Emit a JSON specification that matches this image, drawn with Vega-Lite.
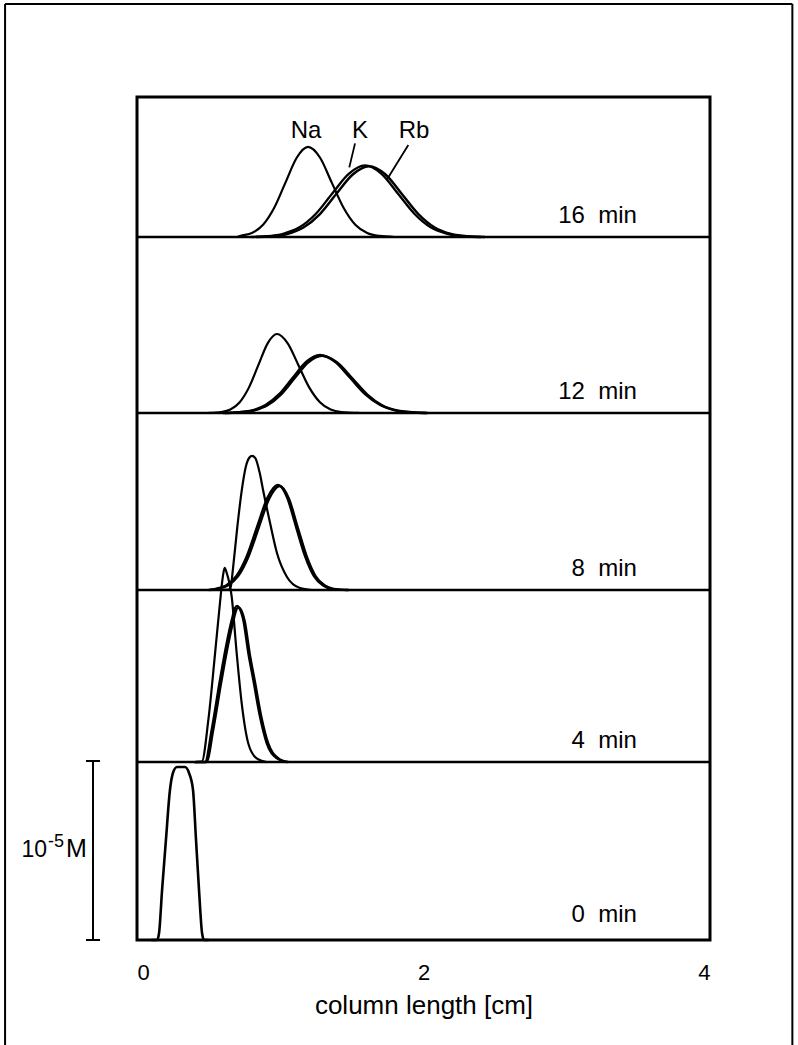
{
"$schema":"https://vega.github.io/schema/vega-lite/v6.json",
"width":573,"height":843,
"autosize":{"type":"none"},
"padding":{"left":137,"top":97,"right":88,"bottom":105},
"background":"white",
"config":{
 "view":{"stroke":"black","strokeWidth":3},
 "font":"Liberation Sans",
 "axis":{"labelFontSize":22},
 "axisX":{"domain":false,"ticks":false,"grid":false,"labelFontSize":22,"labelPadding":22,"labelColor":"black","titleFontSize":26,"titleFontWeight":"normal","titleColor":"black","titlePadding":9,"labelFont":"Liberation Sans","titleFont":"Liberation Sans"},
 "style":{"guide-label":{"fontSize":22}},
 "text":{"font":"Liberation Sans","color":"black"}
},
"datasets":{
 "curves":[
  {"t":16,"ion":"Na","x":0.70,"c":0},{"t":16,"ion":"Na","x":0.723,"c":0.006},{"t":16,"ion":"Na","x":0.802,"c":0.022},{"t":16,"ion":"Na","x":0.880,"c":0.068},{"t":16,"ion":"Na","x":0.958,"c":0.163},{"t":16,"ion":"Na","x":1.037,"c":0.305},{"t":16,"ion":"Na","x":1.116,"c":0.444},{"t":16,"ion":"Na","x":1.194,"c":0.503},{"t":16,"ion":"Na","x":1.277,"c":0.444},{"t":16,"ion":"Na","x":1.359,"c":0.305},{"t":16,"ion":"Na","x":1.442,"c":0.163},{"t":16,"ion":"Na","x":1.524,"c":0.068},{"t":16,"ion":"Na","x":1.607,"c":0.022},{"t":16,"ion":"Na","x":1.689,"c":0.006},{"t":16,"ion":"Na","x":1.80,"c":0},
  {"t":16,"ion":"K","x":0.80,"c":0},{"t":16,"ion":"K","x":0.905,"c":0.004},{"t":16,"ion":"K","x":1.020,"c":0.018},{"t":16,"ion":"K","x":1.134,"c":0.054},{"t":16,"ion":"K","x":1.249,"c":0.130},{"t":16,"ion":"K","x":1.363,"c":0.243},{"t":16,"ion":"K","x":1.478,"c":0.353},{"t":16,"ion":"K","x":1.592,"c":0.400},{"t":16,"ion":"K","x":1.707,"c":0.353},{"t":16,"ion":"K","x":1.821,"c":0.243},{"t":16,"ion":"K","x":1.936,"c":0.130},{"t":16,"ion":"K","x":2.050,"c":0.054},{"t":16,"ion":"K","x":2.165,"c":0.018},{"t":16,"ion":"K","x":2.279,"c":0.004},{"t":16,"ion":"K","x":2.40,"c":0},
  {"t":16,"ion":"Rb","x":0.83,"c":0},{"t":16,"ion":"Rb","x":0.933,"c":0.004},{"t":16,"ion":"Rb","x":1.048,"c":0.017},{"t":16,"ion":"Rb","x":1.162,"c":0.053},{"t":16,"ion":"Rb","x":1.277,"c":0.128},{"t":16,"ion":"Rb","x":1.391,"c":0.240},{"t":16,"ion":"Rb","x":1.506,"c":0.349},{"t":16,"ion":"Rb","x":1.620,"c":0.395},{"t":16,"ion":"Rb","x":1.735,"c":0.349},{"t":16,"ion":"Rb","x":1.849,"c":0.240},{"t":16,"ion":"Rb","x":1.964,"c":0.128},{"t":16,"ion":"Rb","x":2.078,"c":0.053},{"t":16,"ion":"Rb","x":2.193,"c":0.017},{"t":16,"ion":"Rb","x":2.307,"c":0.004},{"t":16,"ion":"Rb","x":2.43,"c":0},
  {"t":12,"ion":"Na","x":0.50,"c":0},{"t":12,"ion":"Na","x":0.587,"c":0.005},{"t":12,"ion":"Na","x":0.652,"c":0.019},{"t":12,"ion":"Na","x":0.717,"c":0.060},{"t":12,"ion":"Na","x":0.782,"c":0.143},{"t":12,"ion":"Na","x":0.847,"c":0.267},{"t":12,"ion":"Na","x":0.912,"c":0.389},{"t":12,"ion":"Na","x":0.977,"c":0.441},{"t":12,"ion":"Na","x":1.052,"c":0.389},{"t":12,"ion":"Na","x":1.127,"c":0.267},{"t":12,"ion":"Na","x":1.202,"c":0.143},{"t":12,"ion":"Na","x":1.277,"c":0.060},{"t":12,"ion":"Na","x":1.352,"c":0.019},{"t":12,"ion":"Na","x":1.427,"c":0.005},{"t":12,"ion":"Na","x":1.55,"c":0},
  {"t":12,"ion":"K","x":0.60,"c":0},{"t":12,"ion":"K","x":0.707,"c":0.004},{"t":12,"ion":"K","x":0.802,"c":0.014},{"t":12,"ion":"K","x":0.897,"c":0.044},{"t":12,"ion":"K","x":0.992,"c":0.105},{"t":12,"ion":"K","x":1.087,"c":0.197},{"t":12,"ion":"K","x":1.182,"c":0.286},{"t":12,"ion":"K","x":1.277,"c":0.324},{"t":12,"ion":"K","x":1.382,"c":0.286},{"t":12,"ion":"K","x":1.487,"c":0.197},{"t":12,"ion":"K","x":1.592,"c":0.105},{"t":12,"ion":"K","x":1.697,"c":0.044},{"t":12,"ion":"K","x":1.802,"c":0.014},{"t":12,"ion":"K","x":1.907,"c":0.004},{"t":12,"ion":"K","x":2.02,"c":0},
  {"t":12,"ion":"Rb","x":0.614,"c":0},{"t":12,"ion":"Rb","x":0.721,"c":0.004},{"t":12,"ion":"Rb","x":0.816,"c":0.014},{"t":12,"ion":"Rb","x":0.911,"c":0.043},{"t":12,"ion":"Rb","x":1.006,"c":0.104},{"t":12,"ion":"Rb","x":1.101,"c":0.195},{"t":12,"ion":"Rb","x":1.196,"c":0.283},{"t":12,"ion":"Rb","x":1.291,"c":0.320},{"t":12,"ion":"Rb","x":1.396,"c":0.283},{"t":12,"ion":"Rb","x":1.501,"c":0.195},{"t":12,"ion":"Rb","x":1.606,"c":0.104},{"t":12,"ion":"Rb","x":1.711,"c":0.043},{"t":12,"ion":"Rb","x":1.816,"c":0.014},{"t":12,"ion":"Rb","x":1.921,"c":0.004},{"t":12,"ion":"Rb","x":2.03,"c":0},
  {"t":8,"ion":"Na","x":0.58,"c":0},{"t":8,"ion":"Na","x":0.640,"c":0.003},{"t":8,"ion":"Na","x":0.655,"c":0.02},{"t":8,"ion":"Na","x":0.670,"c":0.12},{"t":8,"ion":"Na","x":0.700,"c":0.35},{"t":8,"ion":"Na","x":0.730,"c":0.55},{"t":8,"ion":"Na","x":0.760,"c":0.69},{"t":8,"ion":"Na","x":0.785,"c":0.74},{"t":8,"ion":"Na","x":0.803,"c":0.749},{"t":8,"ion":"Na","x":0.825,"c":0.738},{"t":8,"ion":"Na","x":0.855,"c":0.66},{"t":8,"ion":"Na","x":0.880,"c":0.559},{"t":8,"ion":"Na","x":0.929,"c":0.374},{"t":8,"ion":"Na","x":0.977,"c":0.207},{"t":8,"ion":"Na","x":1.047,"c":0.073},{"t":8,"ion":"Na","x":1.138,"c":0.011},{"t":8,"ion":"Na","x":1.22,"c":0},
  {"t":8,"ion":"K","x":0.50,"c":0},{"t":8,"ion":"K","x":0.549,"c":0.0065},{"t":8,"ion":"K","x":0.622,"c":0.026},{"t":8,"ion":"K","x":0.694,"c":0.079},{"t":8,"ion":"K","x":0.767,"c":0.191},{"t":8,"ion":"K","x":0.839,"c":0.356},{"t":8,"ion":"K","x":0.912,"c":0.518},{"t":8,"ion":"K","x":0.984,"c":0.587},{"t":8,"ion":"K","x":1.047,"c":0.518},{"t":8,"ion":"K","x":1.109,"c":0.356},{"t":8,"ion":"K","x":1.172,"c":0.191},{"t":8,"ion":"K","x":1.234,"c":0.079},{"t":8,"ion":"K","x":1.297,"c":0.026},{"t":8,"ion":"K","x":1.359,"c":0.0065},{"t":8,"ion":"K","x":1.47,"c":0},
  {"t":8,"ion":"Rb","x":0.512,"c":0},{"t":8,"ion":"Rb","x":0.561,"c":0.0065},{"t":8,"ion":"Rb","x":0.634,"c":0.026},{"t":8,"ion":"Rb","x":0.706,"c":0.078},{"t":8,"ion":"Rb","x":0.779,"c":0.189},{"t":8,"ion":"Rb","x":0.851,"c":0.352},{"t":8,"ion":"Rb","x":0.924,"c":0.513},{"t":8,"ion":"Rb","x":0.996,"c":0.581},{"t":8,"ion":"Rb","x":1.059,"c":0.513},{"t":8,"ion":"Rb","x":1.121,"c":0.352},{"t":8,"ion":"Rb","x":1.184,"c":0.189},{"t":8,"ion":"Rb","x":1.246,"c":0.078},{"t":8,"ion":"Rb","x":1.309,"c":0.026},{"t":8,"ion":"Rb","x":1.371,"c":0.0065},{"t":8,"ion":"Rb","x":1.48,"c":0},
  {"t":4,"ion":"Na","x":0.40,"c":0},{"t":4,"ion":"Na","x":0.452,"c":0.002},{"t":4,"ion":"Na","x":0.498,"c":0.235},{"t":4,"ion":"Na","x":0.545,"c":0.607},{"t":4,"ion":"Na","x":0.579,"c":0.887},{"t":4,"ion":"Na","x":0.600,"c":1.04},{"t":4,"ion":"Na","x":0.612,"c":1.085},{"t":4,"ion":"Na","x":0.625,"c":1.06},{"t":4,"ion":"Na","x":0.661,"c":0.924},{"t":4,"ion":"Na","x":0.696,"c":0.607},{"t":4,"ion":"Na","x":0.731,"c":0.328},{"t":4,"ion":"Na","x":0.777,"c":0.104},{"t":4,"ion":"Na","x":0.836,"c":0.020},{"t":4,"ion":"Na","x":0.905,"c":0},
  {"t":4,"ion":"K","x":0.40,"c":0},{"t":4,"ion":"K","x":0.475,"c":0},{"t":4,"ion":"K","x":0.521,"c":0.179},{"t":4,"ion":"K","x":0.579,"c":0.458},{"t":4,"ion":"K","x":0.626,"c":0.665},{"t":4,"ion":"K","x":0.661,"c":0.793},{"t":4,"ion":"K","x":0.684,"c":0.860},{"t":4,"ion":"K","x":0.698,"c":0.872},{"t":4,"ion":"K","x":0.715,"c":0.86},{"t":4,"ion":"K","x":0.742,"c":0.793},{"t":4,"ion":"K","x":0.777,"c":0.609},{"t":4,"ion":"K","x":0.812,"c":0.458},{"t":4,"ion":"K","x":0.859,"c":0.251},{"t":4,"ion":"K","x":0.905,"c":0.106},{"t":4,"ion":"K","x":0.975,"c":0.022},{"t":4,"ion":"K","x":1.045,"c":0},
  {"t":4,"ion":"Rb","x":0.41,"c":0},{"t":4,"ion":"Rb","x":0.485,"c":0},{"t":4,"ion":"Rb","x":0.531,"c":0.176},{"t":4,"ion":"Rb","x":0.589,"c":0.452},{"t":4,"ion":"Rb","x":0.636,"c":0.656},{"t":4,"ion":"Rb","x":0.671,"c":0.785},{"t":4,"ion":"Rb","x":0.694,"c":0.852},{"t":4,"ion":"Rb","x":0.708,"c":0.864},{"t":4,"ion":"Rb","x":0.725,"c":0.852},{"t":4,"ion":"Rb","x":0.752,"c":0.785},{"t":4,"ion":"Rb","x":0.787,"c":0.603},{"t":4,"ion":"Rb","x":0.822,"c":0.453},{"t":4,"ion":"Rb","x":0.869,"c":0.248},{"t":4,"ion":"Rb","x":0.915,"c":0.105},{"t":4,"ion":"Rb","x":0.985,"c":0.022},{"t":4,"ion":"Rb","x":1.055,"c":0},
  {"t":0,"ion":"all","x":0.10,"c":0},{"t":0,"ion":"all","x":0.140,"c":0},{"t":0,"ion":"all","x":0.154,"c":0.039},{"t":0,"ion":"all","x":0.175,"c":0.279},{"t":0,"ion":"all","x":0.202,"c":0.559},{"t":0,"ion":"all","x":0.230,"c":0.838},{"t":0,"ion":"all","x":0.251,"c":0.933},{"t":0,"ion":"all","x":0.279,"c":0.966},{"t":0,"ion":"all","x":0.335,"c":0.966},{"t":0,"ion":"all","x":0.363,"c":0.933},{"t":0,"ion":"all","x":0.391,"c":0.838},{"t":0,"ion":"all","x":0.412,"c":0.559},{"t":0,"ion":"all","x":0.433,"c":0.279},{"t":0,"ion":"all","x":0.454,"c":0.039},{"t":0,"ion":"all","x":0.468,"c":0},{"t":0,"ion":"all","x":0.50,"c":0}
 ],
 "ions":[{"ion":"Na","x":1.18,"y":0.553},{"ion":"K","x":1.557,"y":0.553},{"ion":"Rb","x":1.934,"y":0.553}],
 "leaders":[{"x":1.522,"y":0.523,"x2":1.482,"y2":0.389},{"x":1.894,"y":0.514,"x2":1.743,"y2":0.318}]
},
"resolve":{"scale":{"y":"independent"}},
"layer":[
 {"layer":[
  {"data":{"name":"curves"},"transform":[{"filter":"datum.t === 0"}],"mark":{"type":"line","interpolate":"monotone","color":"black"},
   "encoding":{"x":{"field":"x","type":"quantitative","scale":{"domain":[0,4]},"axis":{"values":[0,2,4],"title":"column length [cm]","titleFontSize":26}},"y":{"field":"c","type":"quantitative","scale":{"domain":[0,4.709],"nice":false,"zero":false},"axis":null},"detail":{"field":"ion"},"strokeWidth":{"field":"ion","type":"nominal","scale":{"domain":["Na","K","Rb","all"],"range":[2.2,2.6,2.6,3]},"legend":null}}},
  {"data":{"values":[{"label":"0\u00a0\u00a0min"}]},"mark":{"type":"text","align":"right","baseline":"alphabetic","fontSize":24},"encoding":{"text":{"field":"label"},"x":{"datum":3.49,"axis":{"values":[0,2,4],"title":"column length [cm]","titleFontSize":26}},"y":{"datum":0.1,"scale":{"domain":[0,4.709],"nice":false,"zero":false},"axis":null}}},
  {"data":{"values":[{"k":1}]},"mark":{"type":"rule","color":"black","strokeWidth":2},"encoding":{"x":{"datum":-0.307,"axis":{"values":[0,2,4],"title":"column length [cm]","titleFontSize":26}},"y":{"datum":0,"scale":{"domain":[0,4.709],"nice":false,"zero":false},"axis":null},"y2":{"datum":1}}},
  {"data":{"values":[{"k":1}]},"mark":{"type":"rule","color":"black","strokeWidth":2},"encoding":{"x":{"datum":-0.356,"axis":{"values":[0,2,4],"title":"column length [cm]","titleFontSize":26}},"x2":{"datum":-0.258},"y":{"datum":0,"scale":{"domain":[0,4.709],"nice":false,"zero":false},"axis":null}}},
  {"data":{"values":[{"k":1}]},"mark":{"type":"rule","color":"black","strokeWidth":2},"encoding":{"x":{"datum":-0.356,"axis":{"values":[0,2,4],"title":"column length [cm]","titleFontSize":26}},"x2":{"datum":-0.258},"y":{"datum":1,"scale":{"domain":[0,4.709],"nice":false,"zero":false},"axis":null}}},
  {"data":{"values":[{"s":"10"}]},"mark":{"type":"text","align":"right","baseline":"alphabetic","fontSize":23},"encoding":{"text":{"field":"s"},"x":{"datum":-0.628,"axis":{"values":[0,2,4],"title":"column length [cm]","titleFontSize":26}},"y":{"datum":0.464,"scale":{"domain":[0,4.709],"nice":false,"zero":false},"axis":null}}},
  {"data":{"values":[{"s":"-5"}]},"mark":{"type":"text","align":"left","baseline":"alphabetic","fontSize":18},"encoding":{"text":{"field":"s"},"x":{"datum":-0.621,"axis":{"values":[0,2,4],"title":"column length [cm]","titleFontSize":26}},"y":{"datum":0.52,"scale":{"domain":[0,4.709],"nice":false,"zero":false},"axis":null}}},
  {"data":{"values":[{"s":"M"}]},"mark":{"type":"text","align":"left","baseline":"alphabetic","fontSize":25},"encoding":{"text":{"field":"s"},"x":{"datum":-0.496,"axis":{"values":[0,2,4],"title":"column length [cm]","titleFontSize":26}},"y":{"datum":0.464,"scale":{"domain":[0,4.709],"nice":false,"zero":false},"axis":null}}},
  {"data":{"values":[{"k":1}]},"mark":{"type":"rule","color":"black","strokeWidth":2},"encoding":{"x":{"datum":-0.921,"axis":{"values":[0,2,4],"title":"column length [cm]","titleFontSize":26}},"y":{"datum":-0.65,"scale":{"domain":[0,4.709],"nice":false,"zero":false},"axis":null},"y2":{"datum":5.229}}},
  {"data":{"values":[{"k":1}]},"mark":{"type":"rule","color":"black","strokeWidth":2},"encoding":{"x":{"datum":-0.921,"axis":{"values":[0,2,4],"title":"column length [cm]","titleFontSize":26}},"x2":{"datum":4.575},"y":{"datum":5.229,"scale":{"domain":[0,4.709],"nice":false,"zero":false},"axis":null}}},
  {"data":{"values":[{"k":1}]},"mark":{"type":"rule","color":"black","strokeWidth":2},"encoding":{"x":{"datum":4.575,"axis":{"values":[0,2,4],"title":"column length [cm]","titleFontSize":26}},"y":{"datum":-0.65,"scale":{"domain":[0,4.709],"nice":false,"zero":false},"axis":null},"y2":{"datum":5.229}}}
 ]},
 {"layer":[
  {"data":{"name":"curves"},"transform":[{"filter":"datum.t === 16"}],"mark":{"type":"line","interpolate":"monotone","color":"black"},
   "encoding":{"x":{"field":"x","type":"quantitative","scale":{"domain":[0,4]},"axis":{"values":[0,2,4],"title":"column length [cm]","titleFontSize":26}},"y":{"field":"c","type":"quantitative","scale":{"domain":[-3.927,0.782],"nice":false,"zero":false},"axis":null},"detail":{"field":"ion"},"strokeWidth":{"field":"ion","type":"nominal","scale":{"domain":["Na","K","Rb","all"],"range":[2.2,2.6,2.6,3]},"legend":null}}},
  {"data":{"values":[{"label":"16\u00a0\u00a0min"}]},"mark":{"type":"rule","color":"black","strokeWidth":2.5},"encoding":{"y":{"datum":0,"scale":{"domain":[-3.927,0.782],"nice":false,"zero":false},"axis":null}}},
  {"data":{"values":[{"label":"16\u00a0\u00a0min"}]},"mark":{"type":"text","align":"right","baseline":"alphabetic","fontSize":24},"encoding":{"text":{"field":"label"},"x":{"datum":3.49,"axis":{"values":[0,2,4],"title":"column length [cm]","titleFontSize":26}},"y":{"datum":0.08,"scale":{"domain":[-3.927,0.782],"nice":false,"zero":false},"axis":null}}},
  {"data":{"name":"ions"},"mark":{"type":"text","align":"center","baseline":"alphabetic","fontSize":24},"encoding":{"text":{"field":"ion"},"x":{"field":"x","type":"quantitative","axis":{"values":[0,2,4],"title":"column length [cm]","titleFontSize":26}},"y":{"field":"y","type":"quantitative","scale":{"domain":[-3.927,0.782],"nice":false,"zero":false},"axis":null}}},
  {"data":{"name":"leaders"},"mark":{"type":"rule","color":"black","strokeWidth":1.8},"encoding":{"x":{"field":"x","type":"quantitative","axis":{"values":[0,2,4],"title":"column length [cm]","titleFontSize":26}},"x2":{"field":"x2"},"y":{"field":"y","type":"quantitative","scale":{"domain":[-3.927,0.782],"nice":false,"zero":false},"axis":null},"y2":{"field":"y2"}}}
 ]},
 {"layer":[
  {"data":{"name":"curves"},"transform":[{"filter":"datum.t === 12"}],"mark":{"type":"line","interpolate":"monotone","color":"black"},
   "encoding":{"x":{"field":"x","type":"quantitative","scale":{"domain":[0,4]},"axis":{"values":[0,2,4],"title":"column length [cm]","titleFontSize":26}},"y":{"field":"c","type":"quantitative","scale":{"domain":[-2.944,1.765],"nice":false,"zero":false},"axis":null},"detail":{"field":"ion"},"strokeWidth":{"field":"ion","type":"nominal","scale":{"domain":["Na","K","Rb","all"],"range":[2.2,2.6,2.6,3]},"legend":null}}},
  {"data":{"values":[{"label":"12\u00a0\u00a0min"}]},"mark":{"type":"rule","color":"black","strokeWidth":2.5},"encoding":{"y":{"datum":0,"scale":{"domain":[-2.944,1.765],"nice":false,"zero":false},"axis":null}}},
  {"data":{"values":[{"label":"12\u00a0\u00a0min"}]},"mark":{"type":"text","align":"right","baseline":"alphabetic","fontSize":24},"encoding":{"text":{"field":"label"},"x":{"datum":3.49,"axis":{"values":[0,2,4],"title":"column length [cm]","titleFontSize":26}},"y":{"datum":0.08,"scale":{"domain":[-2.944,1.765],"nice":false,"zero":false},"axis":null}}}
 ]},
 {"layer":[
  {"data":{"name":"curves"},"transform":[{"filter":"datum.t === 8"}],"mark":{"type":"line","interpolate":"monotone","color":"black"},
   "encoding":{"x":{"field":"x","type":"quantitative","scale":{"domain":[0,4]},"axis":{"values":[0,2,4],"title":"column length [cm]","titleFontSize":26}},"y":{"field":"c","type":"quantitative","scale":{"domain":[-1.955,2.754],"nice":false,"zero":false},"axis":null},"detail":{"field":"ion"},"strokeWidth":{"field":"ion","type":"nominal","scale":{"domain":["Na","K","Rb","all"],"range":[2.2,2.6,2.6,3]},"legend":null}}},
  {"data":{"values":[{"label":"8\u00a0\u00a0min"}]},"mark":{"type":"rule","color":"black","strokeWidth":2.5},"encoding":{"y":{"datum":0,"scale":{"domain":[-1.955,2.754],"nice":false,"zero":false},"axis":null}}},
  {"data":{"values":[{"label":"8\u00a0\u00a0min"}]},"mark":{"type":"text","align":"right","baseline":"alphabetic","fontSize":24},"encoding":{"text":{"field":"label"},"x":{"datum":3.49,"axis":{"values":[0,2,4],"title":"column length [cm]","titleFontSize":26}},"y":{"datum":0.08,"scale":{"domain":[-1.955,2.754],"nice":false,"zero":false},"axis":null}}}
 ]},
 {"layer":[
  {"data":{"name":"curves"},"transform":[{"filter":"datum.t === 4"}],"mark":{"type":"line","interpolate":"monotone","color":"black"},
   "encoding":{"x":{"field":"x","type":"quantitative","scale":{"domain":[0,4]},"axis":{"values":[0,2,4],"title":"column length [cm]","titleFontSize":26}},"y":{"field":"c","type":"quantitative","scale":{"domain":[-0.994,3.715],"nice":false,"zero":false},"axis":null},"detail":{"field":"ion"},"strokeWidth":{"field":"ion","type":"nominal","scale":{"domain":["Na","K","Rb","all"],"range":[2.2,2.6,2.6,3]},"legend":null}}},
  {"data":{"values":[{"label":"4\u00a0\u00a0min"}]},"mark":{"type":"rule","color":"black","strokeWidth":2.5},"encoding":{"y":{"datum":0,"scale":{"domain":[-0.994,3.715],"nice":false,"zero":false},"axis":null}}},
  {"data":{"values":[{"label":"4\u00a0\u00a0min"}]},"mark":{"type":"text","align":"right","baseline":"alphabetic","fontSize":24},"encoding":{"text":{"field":"label"},"x":{"datum":3.49,"axis":{"values":[0,2,4],"title":"column length [cm]","titleFontSize":26}},"y":{"datum":0.08,"scale":{"domain":[-0.994,3.715],"nice":false,"zero":false},"axis":null}}}
 ]}
]
}
